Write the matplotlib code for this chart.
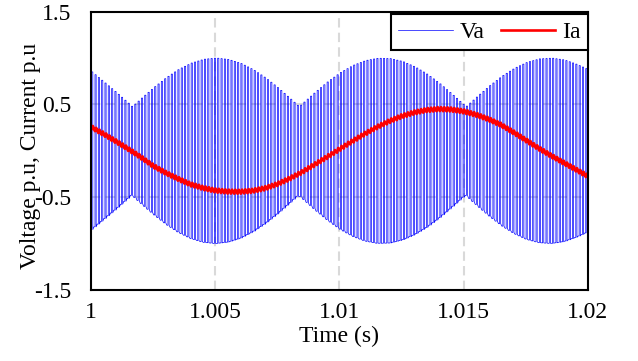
import numpy as np
import matplotlib
matplotlib.use("Agg")
import matplotlib.pyplot as plt

plt.rcParams['font.family'] = ['Liberation Serif', 'DejaVu Serif']
plt.rcParams['axes.unicode_minus'] = False

# Envelope of the PWM phase voltage Va (p.u.)
va_env_t = [1.0000, 1.0005, 1.0010, 1.0015, 1.00162, 1.0020, 1.0025, 1.0030, 1.0035,
            1.0040, 1.0045, 1.0050, 1.0055, 1.0060, 1.0065, 1.0070, 1.0075, 1.0080,
            1.00833, 1.0085, 1.0090, 1.0095, 1.0100, 1.0105, 1.0110, 1.0115, 1.0120,
            1.0125, 1.0130, 1.0135, 1.0140, 1.0145, 1.0150, 1.01504, 1.0155, 1.0160,
            1.0165, 1.0170, 1.0175, 1.0180, 1.0185, 1.0190, 1.0195, 1.0200]
va_env = [0.850, 0.738, 0.625, 0.505, 0.475, 0.568, 0.685, 0.791, 0.880,
          0.946, 0.987, 1.000, 0.984, 0.941, 0.872, 0.782, 0.675, 0.556,
          0.475, 0.517, 0.637, 0.749, 0.845, 0.921, 0.973, 0.998, 0.994,
          0.962, 0.903, 0.822, 0.721, 0.606, 0.485, 0.475, 0.587, 0.703,
          0.807, 0.892, 0.955, 0.991, 0.999, 0.979, 0.931, 0.870]
n_pulses = 150          # switching pulses in the 20 ms window
duty = 0.35

# Phase current Ia (p.u.), read every 0.5 ms
ia_t = np.round(np.arange(1.0, 1.02001, 0.0005), 4)
ia = [0.259, 0.185, 0.105, 0.022, -0.065, -0.160, -0.235, -0.300, -0.360,
      -0.400, -0.428, -0.440, -0.442, -0.432, -0.405, -0.360, -0.300, -0.230,
      -0.150, -0.068, 0.016, 0.099, 0.179, 0.253, 0.318, 0.372, 0.412,
      0.439, 0.450, 0.445, 0.425, 0.389, 0.341, 0.280, 0.200, 0.115,
      0.030, -0.050, -0.125, -0.200, -0.275]
ia_ripple = 0.022

x_ticks = [1.0, 1.005, 1.01, 1.015, 1.02]
x_labels = ["1", "1.005", "1.01", "1.015", "1.02"]
y_ticks = [-1.5, -0.5, 0.5, 1.5]

# build the pulse train from the envelope
t_sw = (va_env_t[-1] - va_env_t[0]) / n_pulses
t_k = va_env_t[0] + np.arange(n_pulses) * t_sw
e_k = np.interp(t_k, va_env_t, va_env)
rise = t_k + 0.5 * (1 - duty) * t_sw
fall = rise + duty * t_sw
va_x = np.column_stack([t_k, rise, rise, fall, fall]).ravel()
va_y = np.column_stack([-e_k, -e_k, e_k, e_k, -e_k]).ravel()
va_x = np.append(va_x, va_env_t[-1])
va_y = np.append(va_y, -va_env[-1])

# current with the small switching ripple
ia_x = np.column_stack([rise, fall]).ravel()
ia_y = np.interp(ia_x, ia_t, ia) + np.tile([-ia_ripple, ia_ripple], n_pulses)
ia_x = np.concatenate([[ia_t[0]], ia_x, [ia_t[-1]]])
ia_y = np.concatenate([[ia[0]], ia_y, [ia[-1]]])

fig = plt.figure(figsize=(6.38, 3.61), dpi=100)
ax = fig.add_axes([0.142, 0.197, 0.7796, 0.7707])

ax.plot(va_x, va_y, color='#0000ff', lw=0.5, label='Va')
ax.plot(ia_x, ia_y, color='#ff0000', lw=1.9, label='Ia')

ax.set_xlim(1.0, 1.02)
ax.set_ylim(-1.5, 1.5)
ax.set_xticks(x_ticks)
ax.set_xticklabels(x_labels)
ax.set_yticks(y_ticks)
ax.tick_params(length=0, labelsize=17)
ax.tick_params(axis='y', pad=14)
ax.tick_params(axis='x', pad=9)
ax.grid(True, color='#d9d9d9', lw=1.5, ls=(0, (4.5, 2.5)))
for s in ax.spines.values():
    s.set_linewidth(1.5)
    s.set_color('black')

ax.set_xlabel("Time (s)", fontsize=17, labelpad=2)
ax.set_ylabel("Voltage p.u, Current p.u", fontsize=17)
ax.yaxis.set_label_coords(-0.1, 0.48)

leg = ax.legend(loc='upper right', bbox_to_anchor=(1.0, 0.99), ncol=2, fontsize=17,
                frameon=True, fancybox=False, framealpha=1, edgecolor='black',
                borderaxespad=0, handlelength=2.3, columnspacing=0.7,
                handletextpad=0.3, borderpad=0.3)
leg.get_frame().set_linewidth(1.5)

fig.savefig("out.png", dpi=100)
